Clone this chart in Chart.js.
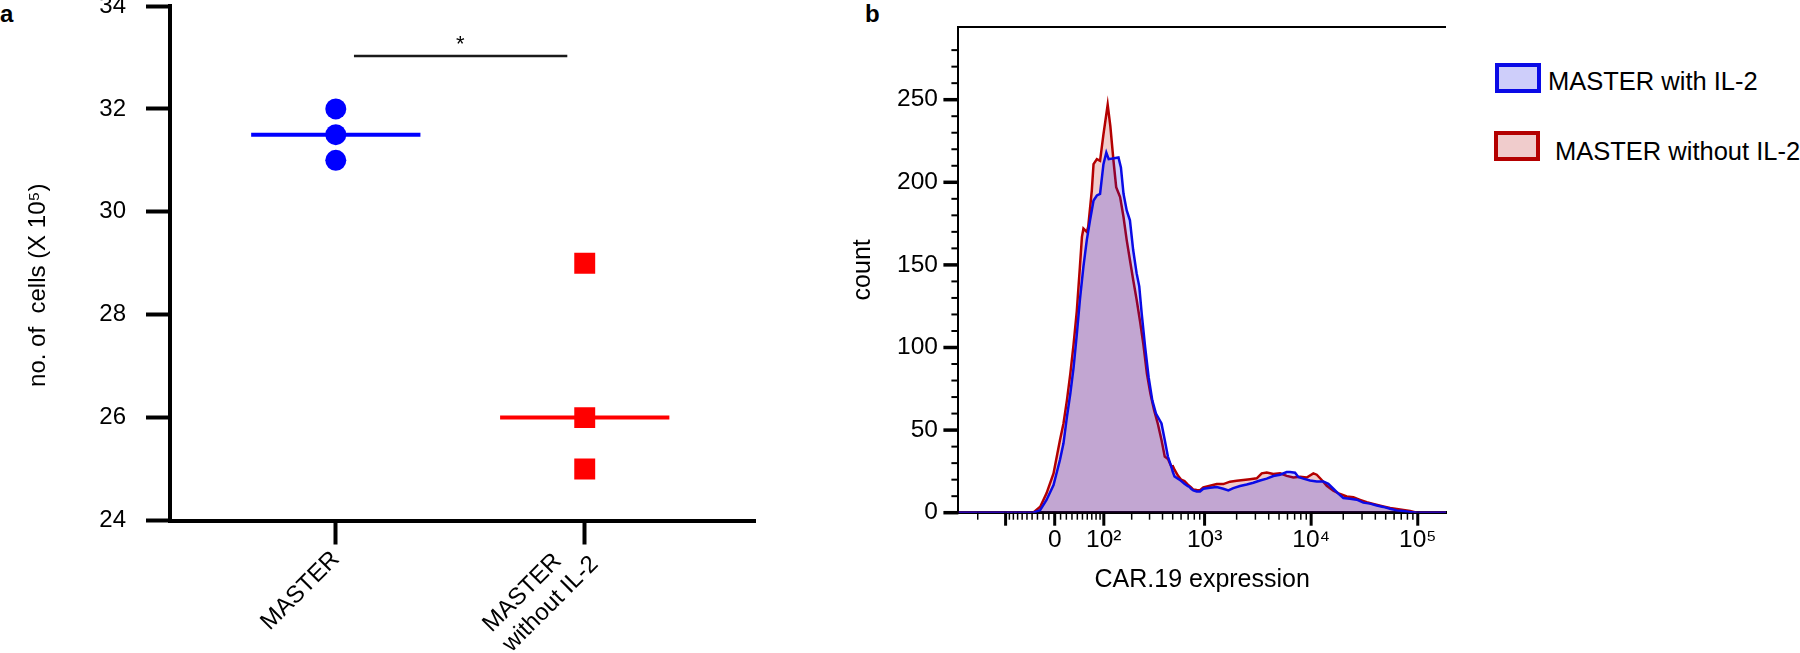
<!DOCTYPE html>
<html>
<head>
<meta charset="utf-8">
<script src="https://cdn.jsdelivr.net/npm/chart.js@4.4.1/dist/chart.umd.min.js"></script>
<style>
html,body{margin:0;padding:0;background:#fff;}
body{width:1800px;height:653px;position:relative;overflow:hidden;font-family:'Liberation Sans',Arial,sans-serif;color:#000;}
#cellsChart{position:absolute;left:0;top:0;}
#histChart{position:absolute;left:844px;top:0;}
.panel{position:absolute;font-weight:bold;font-size:24px;line-height:26px;}
.legend-box{position:absolute;box-sizing:border-box;border:4px solid;width:46px;height:30px;}
.legend-text{position:absolute;font-size:25.5px;line-height:30px;white-space:nowrap;}
</style>
</head>
<body>
<div class="panel" style="left:0px;top:1px">a</div>
<div class="panel" style="left:865px;top:1px">b</div>
<canvas id="cellsChart" width="790" height="653"></canvas>
<canvas id="histChart" width="626" height="653"></canvas>
<div id="histLegend"></div>
<script>

/* panel a : cell numbers */
const groups = ["MASTER", "MASTER without IL-2"];
const groupTickLabels = ["MASTER", ["MASTER", "without IL-2"]];
const cellsWithIL2 = [32, 31.5, 31];
const cellsWithoutIL2 = [29, 26, 25];
const cellsTicks = [24, 26, 28, 30, 32, 34];
const cellsTitle = "no. of  cells (X 10\u2075)";
const sigLevel = 33.03;
const sigMark = "*";

/* panel b : CAR.19 histogram (intensity, count) */
const withIL2Intensity = [-310, -38, -25, -14, -2, 9, 15, 21, 27, 33, 39, 45, 52, 59, 66, 74, 82, 90, 99, 107, 114, 146, 155, 165, 178, 192, 207, 224, 238, 252, 272, 294, 319, 346, 391, 420, 450, 484, 502, 520, 560, 580, 646, 696, 720, 747, 783, 843, 906, 973, 1125, 1301, 1500, 1672, 1862, 2152, 2488, 2869, 3316, 3833, 4419, 5108, 5903, 6339, 7063, 7583, 8448, 9767, 11286, 13017, 14497, 16153, 17993, 20048, 23169, 26777, 30878, 35690, 41247, 47562, 54980, 63542, 73256, 84643, 97824, 184000];
const withIL2Count = [0, 0, 1.6, 7.7, 16.7, 32, 42, 58, 72, 88, 108, 129, 149, 165, 177, 189, 192, 193, 211, 218, 214, 215, 209, 193, 183, 177, 159, 145, 137, 120, 100, 82, 68, 60, 54, 44, 34, 28, 24.6, 22, 20.6, 20, 17.5, 16, 15.6, 14.5, 13.5, 12.9, 12.8, 14.5, 15.1, 15.5, 14.5, 13.5, 14.9, 16.2, 17.1, 18.1, 19.5, 20.6, 22.2, 23, 24.6, 24.6, 24.2, 21.6, 20.6, 19.5, 18.9, 18.9, 17.5, 14.5, 11.5, 8.9, 8.5, 7.9, 6.1, 5.5, 4.4, 3.5, 2.4, 1.4, 1.0, 0.5, 0, 0];

const withoutIL2Intensity = [-310, -38, -25, -14, -2, 9, 15, 21, 27, 33, 39, 45, 49, 52, 59, 62, 70, 74, 82, 90, 99, 111, 119, 129, 138, 152, 165, 178, 192, 207, 224, 242, 261, 283, 306, 332, 360, 391, 420, 451, 484, 502, 520, 560, 602, 646, 696, 747, 783, 843, 906, 973, 1125, 1301, 1500, 1734, 2004, 2312, 2672, 3088, 3440, 3833, 4419, 5108, 5903, 6808, 7870, 9094, 10487, 11286, 12572, 14005, 16153, 18668, 21575, 24880, 28756, 33235, 38327, 47562, 54980, 63542, 73256, 84643, 97824, 184000];
const withoutIL2Count = [0, 0, 3.6, 11.7, 23.8, 44, 54, 68, 84, 102, 122, 149, 167, 172, 170, 173, 195, 211, 214, 213, 229, 247, 234, 213, 197, 191, 179, 165, 153, 141, 129, 116, 102, 84, 72, 62, 54, 44, 34, 32.5, 28, 28.2, 26, 22.5, 20, 19.2, 17, 15.3, 14, 13.7, 13.6, 15.3, 16.3, 17.3, 17.3, 18.8, 19.3, 19.8, 20.3, 20.8, 23.8, 24.3, 23.4, 23.8, 22.3, 21.3, 21.8, 21.3, 23.8, 23, 19.8, 16.3, 13.3, 11.3, 9.8, 9.3, 7.8, 6.3, 5.3, 3.8, 2.8, 2.2, 1.6, 1, 0, 0];

const expressionTicks = [0, 100, 1000, 10000, 100000];
const expressionLabels = ["0", "10\u00b2", "10\u00b3", "10\u2074", "10\u2075"];
const majorExpressionTicks = [-100, 0, 100, 1000, 10000, 100000];

Chart.defaults.font.family = "'Liberation Sans', Arial, sans-serif";
Chart.defaults.color = "#000";

/* logicle-like display transform for the expression axis */
const logicleWidth = 78.7;
const logicle = v => Math.asinh(v / logicleWidth);

class LogicleScale extends Chart.Scale {
static id = "logicle";
static defaults = {};
determineDataLimits(){
this.min = this.options.min;
this.max = this.options.max;
}
buildTicks(){
const values = [-200, -100];
for(let k = 9; k >= 1; k--) values.push(-10 * k);
values.push(0);
for(const d of [10, 100, 1000, 10000]){
for(let k = 1; k <= 9; k++) values.push(d * k);
}
values.push(100000);
return values
.filter((v, i, a) => a.indexOf(v) === i)
.sort((a, b) => a - b)
.map(v => ({value: v}));
}
configure(){
super.configure();
this._tMin = logicle(this.min);
this._tMax = logicle(this.max);
}
getPixelForValue(v){
return this.getPixelForDecimal((logicle(v) - this._tMin) / (this._tMax - this._tMin));
}
getValueForPixel(px){
const d = this.getDecimalForPixel(px);
return logicleWidth * Math.sinh(this._tMin + d * (this._tMax - this._tMin));
}
}
Chart.register(LogicleScale);

function median(arr){
const s = [...arr].sort((a, b) => a - b);
const m = Math.floor(s.length / 2);
return s.length % 2 ? s[m] : (s[m - 1] + s[m]) / 2;
}

/* Cell count dot plot */

const halfWidth = 0.34;

const cellsText = {
id: "cellsText",
afterDraw(chart){
const {ctx, chartArea, scales:{x, y}} = chart;
ctx.save();
ctx.fillStyle = "#000";

/* significance star */
ctx.font = "22px 'Liberation Sans', Arial, sans-serif";
ctx.textAlign = "center";
ctx.textBaseline = "alphabetic";
ctx.fillText(sigMark, x.getPixelForValue(1.5), y.getPixelForValue(sigLevel) - 5);

/* rotated group labels, lines left aligned */
ctx.font = "24px 'Liberation Sans', Arial, sans-serif";
ctx.textAlign = "left";
ctx.textBaseline = "middle";
const lh = 28;
x.ticks.forEach((t, i) => {
const lines = [].concat(groupTickLabels[t.value - 1]);
const w = Math.max(...lines.map(l => ctx.measureText(l).width));
ctx.save();
ctx.translate(x.getPixelForTick(i), x.top + 35 - (lines.length - 1) * 5);
ctx.rotate(-Math.PI / 4);
lines.forEach((l, k) => ctx.fillText(l, -w, (k - (lines.length - 1) / 2) * lh));
ctx.restore();
});

/* y axis title */
ctx.textAlign = "center";
ctx.save();
ctx.translate(y.left + 38, (chartArea.top + chartArea.bottom) / 2 + 22);
ctx.rotate(-Math.PI / 2);
ctx.fillText(cellsTitle, 0, 0);
ctx.restore();

ctx.restore();
}
};

new Chart(
document.getElementById("cellsChart"),
{
type:"scatter",
data:{
datasets:[
{
label:groups[0],
data:cellsWithIL2.map(v => ({x:1, y:v})),
backgroundColor:"#0000ff",
pointStyle:"circle",
pointRadius:10.5,
borderWidth:0
},
{
label:groups[1],
data:cellsWithoutIL2.map(v => ({x:2, y:v})),
backgroundColor:"#ff0000",
pointStyle:"rect",
pointRadius:14.8,
borderWidth:0
},
{
data:[
{x:1 - halfWidth, y:median(cellsWithIL2)},
{x:1 + halfWidth, y:median(cellsWithIL2)}
],
showLine:true,
borderColor:"#0000ff",
borderWidth:4,
pointRadius:0
},
{
data:[
{x:2 - halfWidth, y:median(cellsWithoutIL2)},
{x:2 + halfWidth, y:median(cellsWithoutIL2)}
],
showLine:true,
borderColor:"#ff0000",
borderWidth:4,
pointRadius:0
},
{
data:[
{x:1.073, y:sigLevel},
{x:1.93, y:sigLevel}
],
showLine:true,
borderColor:"#1a1a1a",
borderWidth:2.5,
pointRadius:0
}
]
},
options:{
responsive:false,
animation:false,
events:[],
layout:{autoPadding:false, padding:{top:6, right:35, left:0, bottom:0}},
plugins:{legend:{display:false}, tooltip:{enabled:false}},
scales:{
x:{
type:"linear",
min:0.334,
max:2.684,
afterBuildTicks:s => { s.ticks = groups.map((g, i) => ({value:i + 1})); },
afterFit:s => { s.height = 132.5; s.paddingLeft = 0; s.paddingRight = 0; },
grid:{drawOnChartArea:false, drawTicks:true, tickLength:24, tickWidth:4, tickColor:"#000"},
border:{display:true, width:4, color:"#000"},
ticks:{display:false}
},
y:{
min:24,
max:34,
afterBuildTicks:s => { s.ticks = cellsTicks.map(v => ({value:v})); },
afterFit:s => { s.width = 170; s.paddingTop = 0; s.paddingBottom = 0; },
grid:{drawOnChartArea:false, drawTicks:true, tickLength:24, tickWidth:4, tickColor:"#000"},
border:{display:true, width:4, color:"#000"},
ticks:{padding:20, font:{size:24}, color:"#000"}
}
}
},
plugins:[cellsText]
}
);

/* CAR.19 expression histogram */

const tickMarks = {
id:"tickMarks",
afterDraw(chart){
const {ctx, chartArea, scales:{x, y}} = chart;
ctx.save();
ctx.strokeStyle = "#000";
x.ticks.forEach((t, i) => {
const major = majorExpressionTicks.includes(t.value);
const px = x.getPixelForTick(i);
ctx.lineWidth = major ? 3 : 1.5;
ctx.beginPath();
ctx.moveTo(px, chartArea.bottom);
ctx.lineTo(px, chartArea.bottom + (major ? 13 : 7));
ctx.stroke();
});
y.ticks.forEach((t, i) => {
if(t.value % 10 !== 0) return;
const major = t.value % 50 === 0;
const py = y.getPixelForTick(i);
ctx.lineWidth = major ? 3.5 : 2;
ctx.beginPath();
ctx.moveTo(chartArea.left - (major ? 15 : 7), py);
ctx.lineTo(chartArea.left, py);
ctx.stroke();
});
ctx.lineWidth = 2;
ctx.beginPath();
ctx.moveTo(chartArea.left, chartArea.top);
ctx.lineTo(chartArea.right, chartArea.top);
ctx.stroke();
ctx.restore();
}
};

const histChart = new Chart(
document.getElementById("histChart"),
{
type:"line",
data:{
datasets:[
{
label:"MASTER with IL-2",
data:withIL2Intensity.map((v, i) => ({x:v, y:withIL2Count[i]})),
borderColor:"#0a0ae6",
backgroundColor:"rgba(10,10,230,0.2)",
borderWidth:2.5,
pointRadius:0,
tension:0,
fill:"origin"
},
{
label:"MASTER without IL-2",
data:withoutIL2Intensity.map((v, i) => ({x:v, y:withoutIL2Count[i]})),
borderColor:"#b40000",
backgroundColor:"rgba(180,0,0,0.2)",
borderWidth:2.5,
pointRadius:0,
tension:0,
fill:"origin"
}
]
},
options:{
responsive:false,
animation:false,
events:[],
layout:{autoPadding:false, padding:{top:27, right:24, left:0, bottom:0}},
plugins:{legend:{display:false}, tooltip:{enabled:false}},
scales:{
x:{
type:"logicle",
min:-310,
max:184000,
afterFit:s => { s.height = 140.3; s.paddingLeft = 0; s.paddingRight = 0; },
grid:{display:false, drawTicks:false},
border:{display:true, width:3, color:"#000"},
ticks:{
autoSkip:false,
minRotation:0,
maxRotation:0,
padding:13,
font:{size:24.5},
color:"#000",
callback:v => {
const i = expressionTicks.indexOf(v);
return i < 0 ? "" : expressionLabels[i];
}
},
title:{
display:true,
text:"CAR.19 expression",
font:{size:25},
color:"#000",
padding:{top:0, bottom:58}
}
},
y:{
min:0,
max:294,
afterFit:s => { s.width = 114.4; s.paddingTop = 0; s.paddingBottom = 0; },
grid:{display:false, drawTicks:false},
border:{display:true, width:2, color:"#000"},
ticks:{
stepSize:10,
autoSkip:false,
padding:20.5,
font:{size:24.5},
color:"#000",
callback:v => v % 50 === 0 ? v : ""
},
title:{
display:true,
text:"count",
font:{size:25},
color:"#000",
padding:{top:4, bottom:0}
}
}
}
},
plugins:[tickMarks]
}
);

/* legend next to the histogram */

const legendPlaces = [
{box:[1495, 63], text:[1548, 66]},
{box:[1494, 131], text:[1555, 136]}
];

const legendDiv = document.getElementById("histLegend");

histChart.data.datasets.forEach((ds, i) => {
const place = legendPlaces[i];
const box = document.createElement("div");
box.className = "legend-box";
box.style.left = place.box[0] + "px";
box.style.top = place.box[1] + "px";
box.style.borderColor = ds.borderColor;
box.style.background = ds.backgroundColor;
legendDiv.appendChild(box);
const text = document.createElement("div");
text.className = "legend-text";
text.style.left = place.text[0] + "px";
text.style.top = place.text[1] + "px";
text.textContent = ds.label;
legendDiv.appendChild(text);
});

</script>
</body>
</html>
